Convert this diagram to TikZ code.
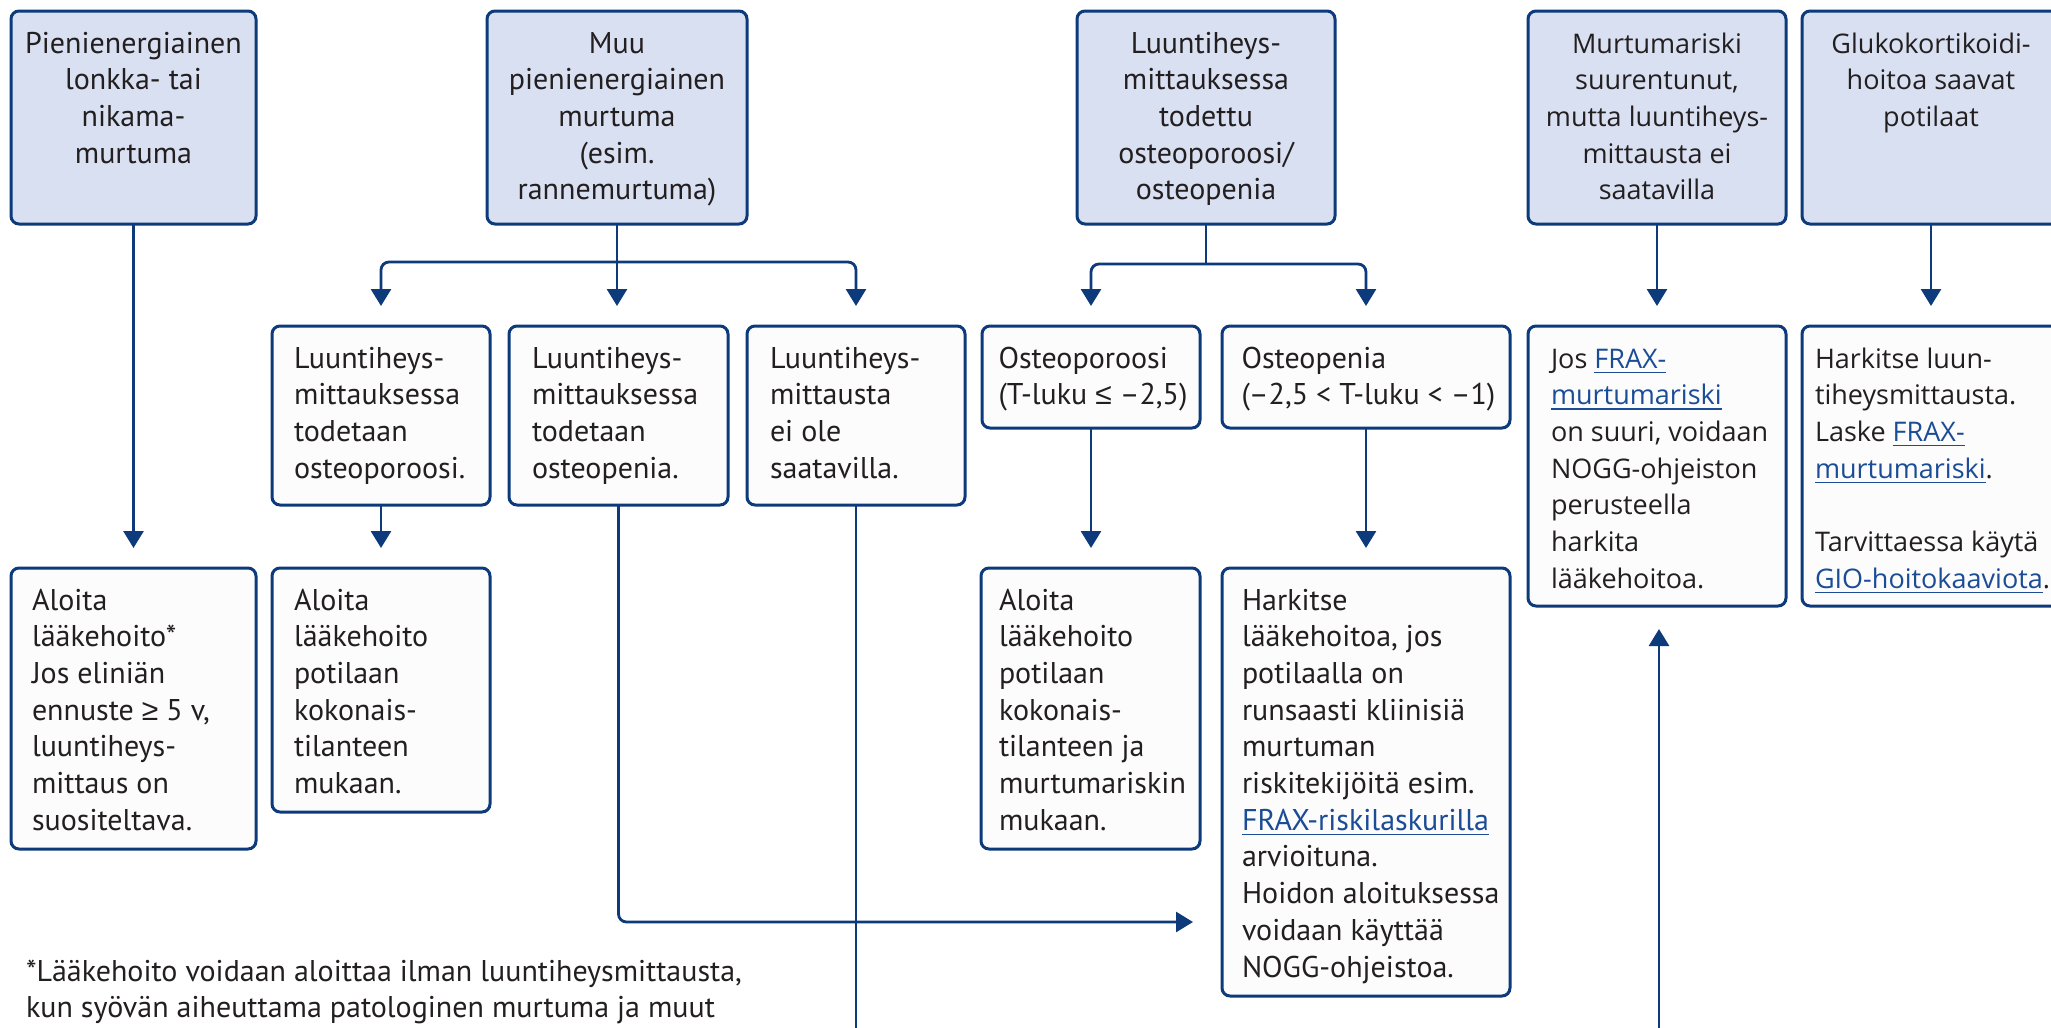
\documentclass[tikz,border=0pt]{standalone}
\usepackage{fontspec}
\setmainfont{PT Sans}
\newfontfamily\rfont{Open Sans}
\newfontfamily\symfont{Liberation Sans}
\usetikzlibrary{arrows.meta,calc}
\definecolor{navy}{HTML}{0C3A7A}
\definecolor{hdrfill}{HTML}{D9E0F1}
\definecolor{boxfill}{HTML}{FCFCFC}
\definecolor{ink}{HTML}{231F20}
\definecolor{linkc}{HTML}{1B4C96}
\newcommand\lnk[1]{{\color{linkc}\setbox0=\hbox{#1}\rlap{\rule[-5pt]{\wd0}{1.5pt}}\box0}}
\newcommand\lft[1]{\begin{tabular}[t]{@{}l@{}}#1\end{tabular}}
\newcommand\ctr[1]{\begin{tabular}[t]{@{}c@{}}#1\end{tabular}}
\newcommand\myleq{{\symfont ≤}}
\newcommand\mygeq{{\symfont ≥}}
\begin{document}
\begin{tikzpicture}[x=1pt,y=-1pt,
  boxbase/.style={draw=navy, line width=3pt, rounded corners=8pt, rectangle, anchor=north west, inner sep=0pt, outer sep=0pt},
  hdr/.style={boxbase, fill=hdrfill, minimum height=213pt, minimum width=258pt},
  lowbox/.style={boxbase, fill=boxfill},
  txt/.style={inner sep=0pt, outer sep=0pt, anchor=base west, text=ink, font=\fontsize{30}{36.7}\selectfont},
  ctxt/.style={txt, anchor=base},
  rtxt/.style={txt, font=\rfont\fontsize{27}{36.7}\selectfont},
  rctxt/.style={rtxt, anchor=base},
  conn/.style={draw=navy, line width=2.8pt, rounded corners=8pt},
  arr/.style={conn, -{Triangle[width=20pt,length=17pt]}, shorten >=20pt},
]
\fill[white] (0,0) rectangle (2051,1028);
\useasboundingbox (0,0) rectangle (2051,1028);

% header row
\node[hdr, minimum width=245pt] (A) at (11,11) {};
\node[hdr, minimum width=260pt] (B) at (487,11) {};
\node[hdr] (C) at (1077,11) {};
\node[hdr] (D) at (1528,11) {};
\node[hdr] (E) at (1802,11) {};

% second row
\node[lowbox, minimum width=218pt, minimum height=179pt] (F1) at (272,326) {};
\node[lowbox, minimum width=219pt, minimum height=179pt] (F2) at (509,326) {};
\node[lowbox, minimum width=218pt, minimum height=179pt] (F3) at (747,326) {};
\node[lowbox, minimum width=218pt, minimum height=102pt] (G1) at (982,326) {};
\node[lowbox, minimum width=288pt, minimum height=102pt] (G2) at (1222,326) {};
\node[lowbox, minimum width=258pt, minimum height=280pt] (H) at (1528,326) {};
\node[lowbox, minimum width=258pt, minimum height=280pt] (I) at (1802,326) {};

% third row
\node[lowbox, minimum width=245pt, minimum height=281pt] (J) at (11,568) {};
\node[lowbox, minimum width=218pt, minimum height=244pt] (K) at (272,568) {};
\node[lowbox, minimum width=219pt, minimum height=281pt] (L) at (981,568) {};
\node[lowbox, minimum width=288pt, minimum height=428pt] (M) at (1222,568) {};

% texts
\node[ctxt] (At) at ($(A.north)+(0,42)$) {\ctr{Pienienergiainen\\lonkka- tai\\nikama-\\murtuma}};
\node[ctxt] (Bt) at ($(B.north)+(0,42)$) {\ctr{Muu\\pienienergiainen\\murtuma\\(esim.\\rannemurtuma)}};
\node[ctxt] (Ct) at ($(C.north)+(0,42)$) {\ctr{Luuntiheys-\\mittauksessa\\todettu\\osteoporoosi/\\osteopenia}};
\node[rctxt] (Dt) at ($(D.north)+(0,42)$) {\ctr{Murtumariski\\suurentunut,\\mutta luuntiheys-\\mittausta ei\\saatavilla}};
\node[rctxt] (Et) at ($(E.north)+(0,42)$) {\ctr{Glukokortikoidi-\\hoitoa saavat\\potilaat}};

\node[txt] (F1t) at ($(F1.north west)+(22,42)$) {\lft{Luuntiheys-\\mittauksessa\\todetaan\\osteoporoosi.}};
\node[txt] (F2t) at ($(F2.north west)+(23,42)$) {\lft{Luuntiheys-\\mittauksessa\\todetaan\\osteopenia.}};
\node[txt] (F3t) at ($(F3.north west)+(23,42)$) {\lft{Luuntiheys-\\mittausta\\ei ole\\saatavilla.}};
\node[txt] (G1t) at ($(G1.north west)+(16.5,42)$) {\lft{Osteoporoosi\\(T-luku \myleq{} –2,5)}};
\node[txt] (G2t) at ($(G2.north west)+(19.5,42)$) {\lft{Osteopenia\\(–2,5 < T-luku < –1)}};
\node[rtxt] (Ht) at ($(H.north west)+(23,42)$) {\lft{Jos \lnk{FRAX-}\\\lnk{murtumariski}\\on suuri, voidaan\\NOGG-ohjeiston\\perusteella\\harkita\\lääkehoitoa.}};
\node[rtxt] (It) at ($(I.north west)+(13,42)$) {\lft{Harkitse luun-\\tiheysmittausta.\\Laske \lnk{FRAX-}\\\lnk{murtumariski}.\\ \\Tarvittaessa käytä\\\lnk{GIO-hoitokaaviota}.}};

\node[txt] (Jt) at ($(J.north west)+(21,42)$) {\lft{Aloita\\lääkehoito*\\Jos eliniän\\ennuste \mygeq{} 5 v,\\luuntiheys-\\mittaus on\\suositeltava.}};
\node[txt] (Kt) at ($(K.north west)+(22,42)$) {\lft{Aloita\\lääkehoito\\potilaan\\kokonais-\\tilanteen\\mukaan.}};
\node[txt] (Lt) at ($(L.north west)+(18,42)$) {\lft{Aloita\\lääkehoito\\potilaan\\kokonais-\\tilanteen ja\\murtumariskin\\mukaan.}};
\node[txt] (Mt) at ($(M.north west)+(20,42)$) {\lft{Harkitse\\lääkehoitoa, jos\\potilaalla on\\runsaasti kliinisiä\\murtuman\\riskitekijöitä esim.\\\lnk{FRAX-riskilaskurilla}\\arvioituna.\\Hoidon aloituksessa\\voidaan käyttää\\NOGG-ohjeistoa.}};

\node[txt] (foot) at (26,981) {\lft{*Lääkehoito voidaan aloittaa ilman luuntiheysmittausta,\\kun syövän aiheuttama patologinen murtuma ja muut}};

% connectors
\draw[arr] (A.south) -- (J.north);

\draw[conn] (B.south) -- ++(0,38) coordinate (bs);
\draw[arr] (bs) -| (F1.north);
\draw[arr] (bs) -- (bs |- F2.north);
\draw[arr] (bs) -| (F3.north);

\draw[conn] (C.south) -- ++(0,40) coordinate (cs);
\draw[arr] (cs) -| (G1.north);
\draw[arr] (cs) -| (G2.north);

\draw[arr] (F1.south) -- (K.north);
\coordinate (min) at ($(M.north west)+(0,354)$);
\draw[arr, shorten >=29pt] (F2.south) |- (min);
\coordinate (f3b) at ($(F3.south)+(0,530)$);
\draw[conn] (F3.south) -- (f3b);

\draw[arr] (G1.south) -- (G1.south |- L.north);
\draw[arr] (G2.south) -- (M.north);

\draw[arr] (D.south) -- (H.north);
\draw[arr] (E.south) -- (I.north);
\coordinate (hb) at ($(H.south)+(2,430)$);
\draw[arr, shorten >=23pt] (hb) -- (hb |- H.south);
\end{tikzpicture}
\end{document}
